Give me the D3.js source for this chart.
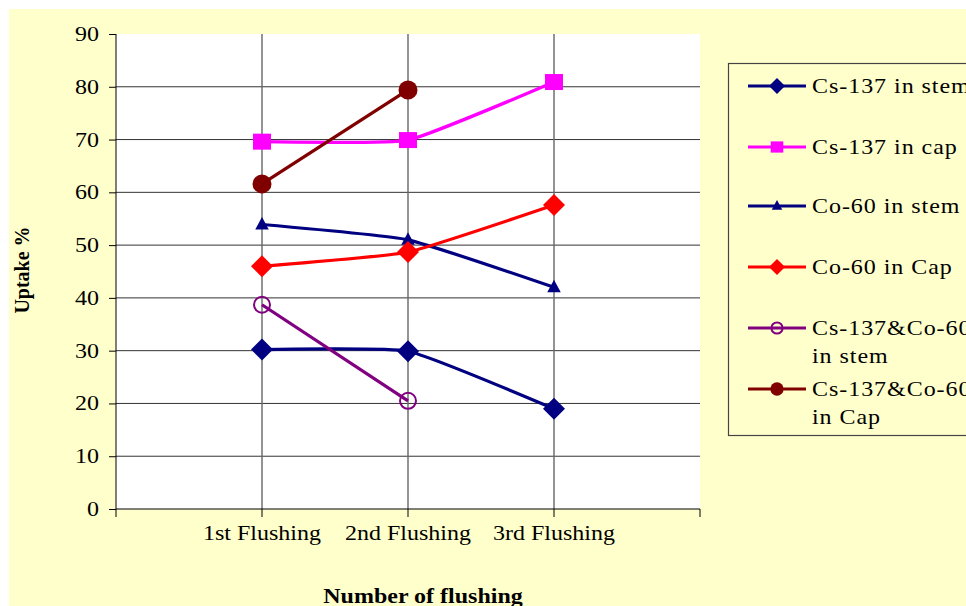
<!DOCTYPE html>
<html><head><meta charset="utf-8">
<script src="https://cdn.jsdelivr.net/npm/d3@7"></script>
<style>body{margin:0;background:#fff}svg{display:block}text{font-family:"Liberation Serif","Times New Roman",serif}</style>
</head><body>
<svg id="c" width="966" height="606"></svg>
<script>
const categories = ["1st Flushing", "2nd Flushing", "3rd Flushing"];
const yTicks = [0, 10, 20, 30, 40, 50, 60, 70, 80, 90];
const csStem = [30.2, 29.9, 19.0];
const csCap = [69.6, 69.9, 80.9];
const coStem = [53.9, 51.0, 42.0];
const coCap = [46.0, 48.7, 57.6];
const mixStem = [38.7, 20.5];
const mixCap = [61.6, 79.4];
const seriesNames = ["Cs-137 in stem", "Cs-137 in cap", "Co-60 in stem", "Co-60 in Cap", "Cs-137&Co-60 in stem", "Cs-137&Co-60 in Cap"];

const series = [
  {name: seriesNames[0], values: csStem, color: "#000080", marker: "diamond", fill: true},
  {name: seriesNames[1], values: csCap, color: "#FF00FF", marker: "square", fill: true},
  {name: seriesNames[2], values: coStem, color: "#000080", marker: "triangle", fill: true},
  {name: seriesNames[3], values: coCap, color: "#FF0000", marker: "diamond", fill: true},
  {name: seriesNames[4], values: mixStem, color: "#800080", marker: "circle", fill: false},
  {name: seriesNames[5], values: mixCap, color: "#800000", marker: "circle", fill: true}
];

const svg = d3.select("#c");
const SX = 1.2;
function txt(g, x, y, s, opts = {}) {
  const t = g.append("text")
    .attr("transform", `translate(${x},${y}) scale(${SX},1)`)
    .attr("text-anchor", opts.anchor || "start")
    .attr("font-size", opts.size || 20)
    .attr("font-weight", opts.bold ? "bold" : "normal")
    .attr("fill", "#000")
    .text(s);
  if (opts.ls) t.attr("letter-spacing", opts.ls);
  return t;
}

// background
svg.append("rect").attr("x", 9).attr("y", 9).attr("width", 957).attr("height", 597).attr("fill", "#FFFFCC");

const L = 116, R = 700, T = 34, B = 509;
const w = R - L;
const x = d3.scalePoint().domain(categories).range([L + w / 4, R - w / 4]);
const y = d3.scaleLinear().domain([0, 90]).range([B, T]);

svg.append("rect").attr("x", L).attr("y", T).attr("width", w).attr("height", B - T).attr("fill", "#fff");

// horizontal gridlines
svg.append("g").selectAll("line").data(yTicks.filter(d => d > 0 && d < 90)).join("line")
  .attr("x1", L).attr("x2", R).attr("y1", d => y(d)).attr("y2", d => y(d))
  .attr("stroke", "#333").attr("stroke-width", 1);
// vertical gridlines
svg.append("g").selectAll("line").data(categories).join("line")
  .attr("x1", d => x(d)).attr("x2", d => x(d)).attr("y1", T).attr("y2", B)
  .attr("stroke", "#666").attr("stroke-width", 1.4);

// y axis
const yAxis = d3.axisLeft(y).tickValues(yTicks).tickSize(7).tickFormat("");
const ya = svg.append("g").attr("transform", `translate(${L},0)`).call(yAxis);
ya.select(".domain").attr("stroke", "#000").attr("d", `M0,${T}V${B}`);
ya.selectAll(".tick line").attr("stroke", "#000");
yTicks.forEach(v => txt(svg, 99, y(v) + 7, String(v), {anchor: "end"}));

// x axis
const xTickPos = [L, ...categories.map(c => x(c)), R];
svg.append("line").attr("x1", L).attr("x2", R).attr("y1", B).attr("y2", B).attr("stroke", "#000").attr("stroke-width", 1.2);
svg.append("g").selectAll("line").data(xTickPos).join("line")
  .attr("x1", d => d).attr("x2", d => d).attr("y1", B).attr("y2", B + 8)
  .attr("stroke", "#000");
categories.forEach(c => txt(svg, x(c), 540, c, {anchor: "middle"}));

// axis titles
txt(svg, 423, 603, "Number of flushing", {anchor: "middle", bold: true});
svg.append("text").attr("transform", "translate(29,270) rotate(-90)")
  .attr("text-anchor", "middle").attr("font-size", 20).attr("font-weight", "bold").text("Uptake %");

function drawMarker(g, type, cx, cy, color, fill, s) {
  if (type === "diamond") {
    g.append("path").attr("d", `M${cx},${cy - s}L${cx + s},${cy}L${cx},${cy + s}L${cx - s},${cy}Z`).attr("fill", color);
  } else if (type === "square") {
    g.append("rect").attr("x", cx - s * 0.9).attr("y", cy - s * 0.8).attr("width", s * 1.8).attr("height", s * 1.6).attr("fill", color);
  } else if (type === "triangle") {
    g.append("path").attr("d", `M${cx},${cy - s * 0.85}L${cx + s * 0.75},${cy + s * 0.55}L${cx - s * 0.75},${cy + s * 0.55}Z`).attr("fill", color);
  } else if (type === "circle") {
    if (fill) g.append("circle").attr("cx", cx).attr("cy", cy).attr("r", s * 0.95).attr("fill", color);
    else g.append("circle").attr("cx", cx).attr("cy", cy).attr("r", s * 0.8).attr("fill", "none").attr("stroke", color).attr("stroke-width", 2);
  }
}

const line = d3.line().x(d => d[0]).y(d => d[1]).curve(d3.curveCardinal.tension(0.6));
const plot = svg.append("g");
series.forEach(s => {
  const pts = s.values.map((v, i) => [x(categories[i]), y(v)]);
  plot.append("path").attr("d", line(pts)).attr("fill", "none").attr("stroke", s.color).attr("stroke-width", 3.2);
});
series.forEach(s => {
  s.values.forEach((v, i) => {
    const sz = s.marker === "diamond" ? 11 : s.marker === "triangle" ? 9 : 10;
    drawMarker(plot, s.marker, x(categories[i]), y(v), s.color, s.fill, sz);
  });
});

// legend
const lg = svg.append("g");
lg.append("rect").attr("x", 728.5).attr("y", 63.5).attr("width", 260).attr("height", 372)
  .attr("fill", "#FFFFCC").attr("stroke", "#444").attr("stroke-width", 1.2);
const legendY = [86, 147, 206, 267, 328, 389];
series.forEach((s, i) => {
  const ly = legendY[i];
  lg.append("line").attr("x1", 748).attr("x2", 806).attr("y1", ly).attr("y2", ly).attr("stroke", s.color).attr("stroke-width", 3);
  const sz = s.marker === "diamond" ? 8 : 7;
  drawMarker(lg, s.marker, 777, ly, s.color, s.fill, sz);
  const parts = s.name.includes("&") ? [s.name.replace(/ in .*/, ""), s.name.replace(/^.*? (in .*)$/, "$1")] : [s.name];
  parts.forEach((p, j) => txt(lg, 812, ly + 7 + j * 28, p, {ls: 0.8}));
});
</script>
</body></html>
